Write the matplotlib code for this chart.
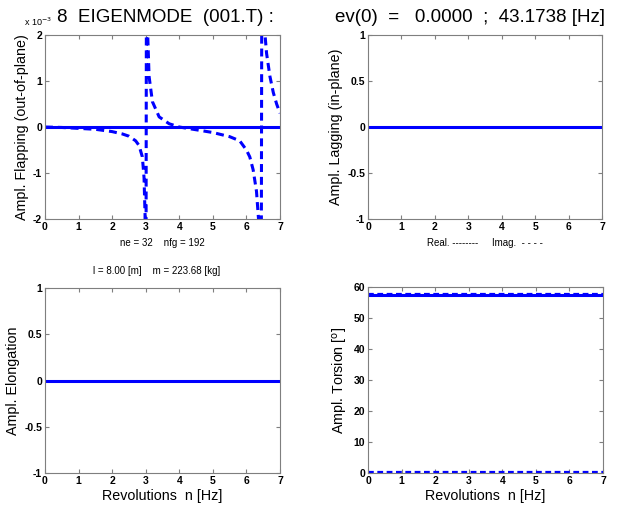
import matplotlib
matplotlib.use('Agg')
import matplotlib.pyplot as plt

plt.rcParams.update({
    'font.family': ['Liberation Sans', 'DejaVu Sans'],
    'xtick.direction': 'in',
    'ytick.direction': 'in',
    'xtick.top': True,
    'ytick.right': True,
    'xtick.major.size': 3,
    'ytick.major.size': 3,
    'xtick.labelsize': 7.5,
    'ytick.labelsize': 7.5,
    'axes.edgecolor': '#7f7f7f',
    'axes.linewidth': 0.8,
})

# revolution grid for the flat curves
n_flat = [0, 1, 2, 3, 4, 5, 6, 7]
n_ticks = [0, 1, 2, 3, 4, 5, 6, 7]
n_labels = ['0', '1', '2', '3', '4', '5', '6', '7']

# flapping (out-of-plane), x 1e-3
flap_real = [0, 0, 0, 0, 0, 0, 0, 0]
flap_n = [0.0, 0.5, 1.0, 1.5, 2.0, 2.3, 2.5, 2.7, 2.8, 2.9, 2.95, 2.98, 3.0,
          3.03, 3.06, 3.1, 3.2, 3.4, 3.7, 4.0, 4.5, 5.0, 5.5, 5.8, 6.0, 6.1,
          6.2, 6.3, 6.38, 6.43, 6.47, 6.52, 6.6, 6.7, 6.8, 6.9, 7.0]
flap_imag = [0.0, -0.01, -0.03, -0.05, -0.1, -0.15, -0.2, -0.3, -0.4, -0.65,
             -1.1, -1.9, -8.0, 8.0, 2.0, 1.1, 0.55, 0.22, 0.07, 0.0, -0.06,
             -0.12, -0.21, -0.3, -0.5, -0.65, -0.93, -1.4, -2.2, -8.0, 8.0,
             2.3, 1.6, 1.1, 0.75, 0.5, 0.3]
flap_ticks = [-2, -1, 0, 1, 2]
flap_labels = ['-2', '-1', '0', '1', '2']

lag_real = [0, 0, 0, 0, 0, 0, 0, 0]
lag_imag = [0, 0, 0, 0, 0, 0, 0, 0]
elo_real = [0, 0, 0, 0, 0, 0, 0, 0]
elo_imag = [0, 0, 0, 0, 0, 0, 0, 0]
unit_ticks = [-1, -0.5, 0, 0.5, 1]
unit_labels = ['-1', '-0.5', '0', '0.5', '1']

tor_real = [57.3, 57.3, 57.3, 57.3, 57.3, 57.3, 57.3, 57.3]
tor_imag_a = [57.7, 57.7, 57.7, 57.7, 57.7, 57.7, 57.7, 57.7]
tor_imag_b = [0.2, 0.2, 0.2, 0.2, 0.2, 0.2, 0.2, 0.2]
tor_ticks = [0, 10, 20, 30, 40, 50, 60]
tor_labels = ['0', '10', '20', '30', '40', '50', '60']

blue = '#0000ff'
dash = (0, (2.6, 1.6))

W, H = 621, 511
fig = plt.figure(figsize=(W / 100, H / 100), dpi=100)


def make_ax(x0, y0, x1, y1):
    return fig.add_axes([x0 / W, 1 - y1 / H, (x1 - x0) / W, (y1 - y0) / H])


ax1 = make_ax(45, 35, 280, 219)
ax2 = make_ax(368, 35, 602, 219)
ax3 = make_ax(45, 288, 280, 473)
ax4 = make_ax(368, 287, 603, 473)

ax1.plot(n_flat, flap_real, '-', color=blue, lw=2.2)
ax1.plot(flap_n, flap_imag, color=blue, lw=2.2, ls=dash)
ax1.set_ylim(-2, 2)
ax1.set_yticks(flap_ticks, flap_labels)
ax1.set_ylabel('Ampl. Flapping (out-of-plane)', fontsize=10.3, labelpad=3)

ax2.plot(n_flat, lag_real, '-', color=blue, lw=2.2)
ax2.plot(n_flat, lag_imag, color=blue, lw=2.0, ls=dash)
ax2.set_ylim(-1, 1)
ax2.set_yticks(unit_ticks, unit_labels)
ax2.set_ylabel('Ampl. Lagging (in-plane)', fontsize=10.3, labelpad=3)

ax3.plot(n_flat, elo_real, '-', color=blue, lw=2.2)
ax3.plot(n_flat, elo_imag, color=blue, lw=2.0, ls=dash)
ax3.set_ylim(-1, 1)
ax3.set_yticks(unit_ticks, unit_labels)
ax3.set_ylabel('Ampl. Elongation', fontsize=10.3, labelpad=3)

ax4.plot(n_flat, tor_real, '-', color=blue, lw=2.2)
ax4.plot(n_flat, tor_imag_a, color=blue, lw=1.6, ls=dash)
ax4.plot(n_flat, tor_imag_b, color=blue, lw=1.6, ls=dash)
ax4.set_ylim(0, 60)
ax4.set_yticks(tor_ticks, tor_labels)
ax4.set_ylabel('Ampl. Torsion [$^{\\mathrm{o}}$]', fontsize=10.3, labelpad=3)

for ax in (ax1, ax2, ax3, ax4):
    ax.set_xlim(0, 7)
    ax.set_xticks(n_ticks, n_labels)
    ax.tick_params(colors='black', pad=2)
    ax.tick_params(axis='both', color='#7f7f7f')
    for lab in ax.get_xticklabels() + ax.get_yticklabels():
        lab.set_fontweight('bold')

for ax in (ax3, ax4):
    ax.set_xlabel('Revolutions  n [Hz]', fontsize=10.3, labelpad=2)

# exponent of the flapping axis
fig.text(24 / W, 1 - 26 / H, 'x 10$^{-3}$', fontsize=6.5, ha='left',
         va='baseline')

# title
fig.text(57 / W, 1 - 22 / H, '8  EIGENMODE  (001.T) :', fontsize=13.5,
         ha='left', va='baseline')
fig.text(605 / W, 1 - 22 / H, 'ev(0)  =   0.0000  ;  43.1738 [Hz]',
         fontsize=13.5, ha='right', va='baseline')

# annotations below the top axes
fig.text(162 / W, 1 - 246 / H, 'ne = 32    nfg = 192', fontsize=7,
         ha='center', va='baseline')
fig.text(157 / W, 1 - 274 / H, 'l = 8.00 [m]    m = 223.68 [kg]', fontsize=7,
         ha='center', va='baseline')
fig.text(485 / W, 1 - 246 / H, 'Real. --------     Imag.  - - - -',
         fontsize=7, ha='center', va='baseline')

fig.savefig('out.png', dpi=100)
